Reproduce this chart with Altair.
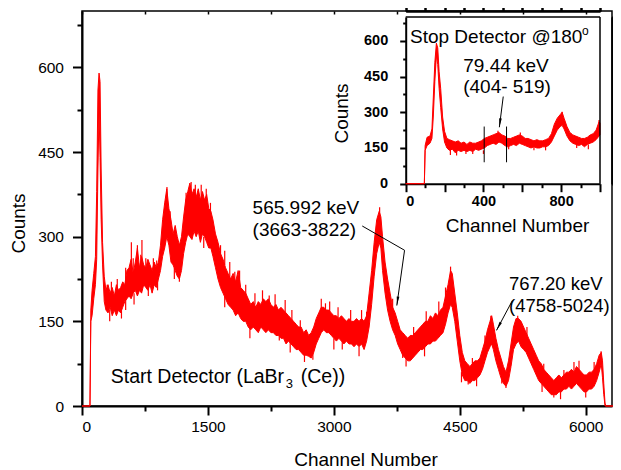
import math
import altair as alt
import pandas as pd

# ---------------- data ----------------
# Start detector spectrum: channel, lower and upper edge of the noisy trace (counts)
main_ch = [0, 95, 105, 120, 140, 160, 175, 190, 203, 215, 228, 245, 265, 285, 310, 335, 360, 385, 410, 435,
           460, 485, 510, 535, 560, 585, 610, 635, 660, 685, 710, 735, 760, 785, 810, 835, 860, 885, 910, 935,
           960, 985, 1010, 1035, 1060, 1085, 1110, 1135, 1160, 1185, 1210, 1235, 1260, 1285, 1310, 1335, 1360,
           1385, 1410, 1435, 1460, 1485, 1510, 1535, 1560, 1590, 1620, 1650, 1680, 1710, 1740, 1770, 1800, 1830,
           1860, 1890, 1920, 1950, 1980, 2010, 2040, 2070, 2100, 2130, 2160, 2190, 2220, 2250, 2280, 2310, 2340,
           2370, 2400, 2430, 2460, 2490, 2520, 2550, 2580, 2610, 2640, 2670, 2700, 2730, 2760, 2790, 2820, 2850,
           2880, 2910, 2940, 2970, 3000, 3030, 3060, 3090, 3120, 3150, 3180, 3210, 3240, 3270, 3300, 3330, 3360,
           3390, 3420, 3450, 3480, 3510, 3540, 3560, 3580, 3610, 3640, 3670, 3700, 3730, 3760, 3790, 3820, 3850,
           3880, 3910, 3940, 3970, 4000, 4030, 4060, 4090, 4120, 4150, 4180, 4210, 4240, 4270, 4300, 4330, 4360,
           4390, 4410, 4440, 4470, 4500, 4530, 4560, 4590, 4620, 4650, 4680, 4710, 4740, 4770, 4800, 4830, 4860,
           4880, 4900, 4930, 4960, 4990, 5020, 5050, 5080, 5110, 5140, 5170, 5200, 5230, 5260, 5290, 5320, 5350,
           5380, 5410, 5440, 5470, 5500, 5530, 5560, 5590, 5620, 5650, 5680, 5710, 5740, 5770, 5800, 5830, 5860,
           5890, 5920, 5950, 5980, 6010, 6040, 6070, 6100, 6130, 6160, 6185, 6200, 6215, 6230, 6240, 6400]
main_lo = [0, 0, 150, 160, 190, 215, 260, 420, 520, 440, 330, 250, 185, 170, 165, 175, 160, 170, 160, 170,
           165, 175, 185, 190, 195, 190, 200, 205, 195, 205, 200, 215, 210, 205, 215, 200, 215, 210, 225, 240,
           265, 280, 300, 285, 255, 250, 240, 230, 225, 240, 270, 290, 305, 300, 295, 310, 300,
           310, 290, 305, 300, 290, 280, 280, 265, 245, 225, 210, 200, 190, 180, 175, 170, 160,
           165, 155, 150, 150, 140, 135, 140, 135, 130, 140, 135, 130, 135, 130, 130, 125, 125,
           120, 120, 110, 115, 110, 105, 100, 100, 95, 90, 90, 88, 85, 95, 110, 120, 130,
           135, 130, 130, 125, 120, 115, 120, 115, 110, 115, 110, 110, 105, 110, 105, 110, 100,
           115, 140, 180, 230, 270, 290, 280, 240, 200, 170, 150, 135, 125, 110, 100, 90, 85,
           80, 80, 85, 90, 95, 100, 100, 105, 110, 110, 115, 115, 120, 125, 130, 145, 165,
           180, 175, 150, 115, 80, 55, 45, 45, 40, 45, 45, 50, 55, 65, 80, 95, 105,
           110, 100, 80, 65, 50, 40, 35, 45, 70, 100, 110, 115, 105, 100, 95, 85, 75,
           65, 55, 45, 40, 35, 30, 25, 20, 20, 20, 25, 25, 30, 30, 35, 30, 35,
           40, 35, 30, 25, 25, 30, 30, 35, 45, 60, 75, 50, 20, 0, 0, 0]
main_hi = [0, 0, 170, 205, 235, 265, 380, 560, 590, 575, 420, 290, 230, 205, 215, 200, 210, 195, 215, 205,
           210, 220, 215, 240, 245, 260, 235, 255, 280, 245, 265, 250, 245, 260, 250, 240, 255, 245, 255, 285,
           330, 360, 385, 350, 330, 305, 320, 300, 285, 300, 335, 365, 380, 395, 375, 385, 370,
           385, 365, 380, 365, 375, 350, 345, 330, 305, 290, 270, 260, 245, 235, 225, 235, 220,
           240, 210, 205, 200, 190, 180, 185, 175, 185, 180, 190, 185, 190, 180, 175, 180, 170,
           175, 170, 165, 160, 155, 150, 145, 140, 140, 130, 135, 125, 130, 140, 155, 165, 175,
           175, 170, 170, 165, 160, 160, 155, 160, 155, 150, 155, 150, 150, 155, 150, 155, 150,
           160, 200, 240, 290, 330, 345, 335, 300, 255, 225, 200, 175, 165, 150, 135, 130, 125,
           120, 125, 125, 130, 135, 140, 145, 150, 150, 160, 155, 165, 160, 170, 175, 195, 215,
           240, 235, 200, 165, 125, 95, 80, 75, 70, 75, 80, 80, 85, 100, 115, 135, 150,
           160, 145, 120, 100, 85, 70, 60, 80, 110, 140, 155, 155, 150, 140, 130, 120, 110,
           100, 90, 80, 75, 65, 60, 55, 50, 45, 50, 55, 50, 55, 60, 60, 65, 60,
           70, 65, 60, 55, 55, 60, 60, 65, 75, 90, 95, 80, 40, 5, 0, 0]
# single noise spikes standing out of the trace (channel, from, to) in counts
spike_ch = [470, 588, 660, 714, 790, 1012, 1160, 1300, 1420, 1820, 1877, 2230, 2350, 2600, 2750, 2900,
            3100, 3390, 3545, 3820, 4390, 4600, 4870, 5050, 5190, 5620, 5740, 6183,
            300, 350, 420, 520, 610, 700, 760, 850, 890, 1050, 1240, 1350, 1480, 1530, 1650, 1700, 1760,
            1950, 2060, 2150, 2300, 2420, 2500, 2850, 2950, 3050, 3200, 3330, 3700, 3950, 4100, 4250, 4330,
            4650, 4800, 5300, 5500, 5860, 5920, 6100,
            330, 520, 620, 900, 1100, 1450, 1700, 2000, 2480, 2650, 3000, 3300, 3860, 4080, 4520, 4700,
            5000, 5480, 5700, 6000]
spike_a = [175, 240, 250, 250, 210, 340, 240, 370, 360, 200, 200, 170, 130, 125, 100, 160,
           130, 140, 320, 100, 220, 50, 140, 45, 140, 30, 50, 80,
           200, 195, 200, 215, 230, 240, 235, 240, 235, 320, 350, 370, 360, 335, 260, 250, 225,
           195, 180, 180, 175, 165, 150, 170, 165, 155, 150, 150, 170, 120, 145, 160, 190,
           70, 110, 125, 60, 60, 62, 62,
           170, 190, 200, 225, 245, 300, 195, 140, 115, 95, 120, 105, 85, 105, 60, 50,
           55, 40, 25, 28]
spike_b = [155, 290, 285, 294, 195, 388, 220, 397, 392, 238, 240, 196, 116, 152, 82, 182,
           100, 167, 352, 85, 247, 38, 160, 32, 160, 15, 64, 97,
           215, 220, 225, 245, 262, 268, 262, 262, 258, 345, 378, 392, 385, 360, 285, 275, 255,
           215, 200, 205, 198, 188, 170, 190, 185, 175, 170, 170, 190, 140, 168, 185, 210,
           85, 125, 140, 75, 78, 80, 78,
           150, 170, 180, 205, 225, 280, 175, 120, 95, 78, 100, 88, 70, 88, 42, 35,
           40, 25, 12, 15]

# Stop detector spectrum (inset)
inset_ch = [0, 96, 100, 110, 125, 135, 142, 150, 158, 165, 172, 180, 190, 200, 212, 225, 240, 255, 270, 285,
            300, 315, 330, 345, 360, 375, 390, 405, 420, 435, 450, 465, 480, 495, 510, 525, 540, 555, 570,
            585, 600, 615, 630, 645, 660, 675, 690, 705, 720, 735, 750, 765, 780, 795, 805, 815, 830, 845,
            860, 875, 890, 905, 920, 935, 950, 965, 980, 995, 1000]
inset_lo = [0, 0, 140, 160, 170, 190, 280, 430, 540, 500, 400, 320, 230, 175, 150, 140, 145, 130, 140, 135,
            140, 135, 140, 135, 145, 140, 145, 150, 160, 165, 170, 165, 175, 170, 160, 155, 160, 165, 160,
            170, 165, 160, 155, 150, 155, 150, 150, 155, 155, 160, 175, 200, 225, 240, 245, 230, 200, 180,
            170, 165, 160, 165, 155, 165, 170, 175, 185, 200, 205]
inset_hi = [0, 0, 160, 195, 200, 230, 360, 510, 590, 570, 470, 400, 280, 220, 190, 185, 180, 175, 180, 170,
            175, 165, 175, 170, 170, 175, 180, 190, 195, 200, 205, 210, 215, 205, 200, 190, 190, 195, 200,
            205, 200, 190, 190, 185, 180, 185, 180, 180, 185, 190, 210, 250, 275, 290, 300, 275, 240, 215,
            205, 200, 195, 190, 190, 195, 205, 210, 225, 260, 255]
ispike_ch = [230, 262, 310, 400, 475, 590, 660, 805, 880, 995, 345, 530, 720, 850, 940]
ispike_a = [150, 140, 150, 140, 200, 190, 160, 280, 170, 240, 150, 165, 160, 190, 165]
ispike_b = [120, 118, 125, 125, 222, 215, 140, 302, 150, 268, 125, 145, 140, 212, 145]

# gate channels in the inset and the annotation arrows (channel, counts)
gate_ch = [404, 519]
gate_lo, gate_hi = 90, 240
arrow_main_1 = [(3338, 319), (3842, 276), (3750, 178)]
arrow_main_2 = [(5127, 187), (4937, 134)]
arrow_inset = [(502, 366), (482, 237)]

# axis ticks
main_x_major = [0, 1500, 3000, 4500, 6000]
main_x_minor = [750, 2250, 3750, 5250]
y_major = [0, 150, 300, 450, 600]
y_minor = [75, 225, 375, 525, 675]
inset_x_major = [0, 200, 400, 600, 800, 1000]
inset_x_minor = [100, 300, 500, 700, 900]

FONT = "Liberation Sans"
W, H = 530, 395
X_MAX, Y_MAX = 6313, 700
IX = [323.7, 518.0]
IY = [172.7, 6.0]


def head(points, sx, sy, back=6.0):
    (x0, y0), (x1, y1) = points[-2], points[-1]
    dx = (x1 - x0) * sx
    dy = -(y1 - y0) * sy
    L = math.hypot(dx, dy)
    ux, uy = dx / L, dy / L
    ang = math.degrees(math.atan2(ux, -uy)) % 360
    return {"ch": x1 - ux * back / sx, "v": y1 + uy * back / sy, "ang": ang}


def arrows_df(arrs):
    rows = []
    for i, a in enumerate(arrs):
        for j, (c, v) in enumerate(a):
            rows.append({"id": i, "o": j, "ch": c, "v": v})
    return pd.DataFrame(rows)


NOX = dict(axis=None)

# ---------------- main chart ----------------
xs = alt.Scale(domain=[0, X_MAX], nice=False, zero=False)
ys = alt.Scale(domain=[0, Y_MAX], nice=False)

main_df = pd.DataFrame({"ch": main_ch, "lo": main_lo, "hi": main_hi})

main_area = alt.Chart(main_df).mark_area(
    color="#ff0000", stroke="#ff0000", strokeWidth=1, orient="vertical"
).encode(
    x=alt.X("ch:Q", scale=xs, axis=alt.Axis(
        orient="bottom", values=main_x_major, format="d", tickSize=9,
        labelPadding=4, labelFontSize=15.5,
        title="Channel Number", titleFontSize=19, titleFontWeight="normal",
        titleX=283.5, titleY=59, titleBaseline="alphabetic", titleAnchor="middle")),
    y=alt.Y("lo:Q", scale=ys, axis=alt.Axis(
        orient="left", values=y_major, format="d", tickSize=9.5,
        labelPadding=9, labelFontSize=15.5,
        title="Counts", titleFontSize=19, titleFontWeight="normal",
        titleAngle=-90, titleX=-58, titleY=212, titleBaseline="alphabetic", titleAlign="center")),
    y2="hi:Q",
)

main_minor = alt.Chart(pd.DataFrame({"ch": main_x_minor + [main_x_minor[-1]],
                                     "v": y_minor})).mark_point(opacity=0).encode(
    x=alt.X("ch:Q", axis=alt.Axis(orient="bottom", values=main_x_minor, tickSize=5, labels=False,
                                  domain=False, title=None)),
    y=alt.Y("v:Q", axis=alt.Axis(orient="left", values=y_minor, tickSize=5, labels=False,
                                 domain=False, title=None)),
)

# inward ticks on the top frame (a bottom-oriented axis moved to the top edge)
top_ticks = alt.Chart(pd.DataFrame({"ch": main_x_major + main_x_minor})).mark_point(opacity=0).encode(
    x=alt.X("ch:Q", axis=alt.Axis(orient="bottom", offset=-H, values=main_x_major + main_x_minor,
                                  tickSize=3, tickWidth=1.5, labels=False, domain=False, title=None)),
)

spikes = alt.Chart(pd.DataFrame({"ch": spike_ch, "a": spike_a, "b": spike_b})).mark_rule(
    color="#ff0000", strokeWidth=1.2).encode(
    x=alt.X("ch:Q", **NOX), y=alt.Y("a:Q", **NOX), y2="b:Q")

sxm, sym = W / X_MAX, H / Y_MAX
m_arrows = arrows_df([arrow_main_1, arrow_main_2])
main_arrow_lines = alt.Chart(m_arrows).mark_line(color="black", strokeWidth=1).encode(
    x=alt.X("ch:Q", **NOX), y=alt.Y("v:Q", **NOX), detail="id:N", order="o:Q")
m_heads = pd.DataFrame([head(arrow_main_1, sxm, sym), head(arrow_main_2, sxm, sym)])
main_heads = alt.Chart(m_heads).mark_point(shape="wedge", filled=True, color="black", size=110, opacity=1).encode(
    x=alt.X("ch:Q", **NOX), y=alt.Y("v:Q", **NOX), angle=alt.Angle("ang:Q", scale=None))

m_text = pd.DataFrame({
    "ch": [2032, 2032, 5086, 5086],
    "v": [340.6, 301.8, 204.7, 166],
    "t": ["565.992 keV", "(3663-3822)", "767.20 keV", "(4758-5024)"],
    "s": [19, 19, 18.5, 18.5],
})
main_texts = alt.Chart(m_text).mark_text(
    font=FONT, align="left", baseline="alphabetic", color="black"
).encode(x=alt.X("ch:Q", **NOX), y=alt.Y("v:Q", **NOX), text="t:N",
         size=alt.Size("s:Q", scale=None, legend=None))

start_df = pd.DataFrame({"ch": [342], "v": [40]})


def label_part(df, text, size, dx=0, dy=0):
    return alt.Chart(df).mark_text(font=FONT, fontSize=size, align="left", baseline="alphabetic",
                                   color="black", text=text, dx=dx, dy=dy).encode(
        x=alt.X("ch:Q", **NOX), y=alt.Y("v:Q", **NOX))


start1 = label_part(start_df, "Start Detector (LaBr", 19.5)
start2 = label_part(start_df, "3", 13, dx=175, dy=5)
start3 = label_part(start_df, "(Ce))", 19.5, dx=190)

main = alt.layer(main_area, main_minor, top_ticks, spikes, main_arrow_lines, main_heads, main_texts,
                 start1, start2, start3).resolve_axis(x="independent", y="independent")

# ---------------- inset ----------------
ixs = alt.Scale(domain=[0, 1000], nice=False, zero=False, range=IX)
iys = alt.Scale(domain=[0, Y_MAX], nice=False, range=IY)
inset_df = pd.DataFrame({"ch": inset_ch, "lo": inset_lo, "hi": inset_hi})

inset_area = alt.Chart(inset_df).mark_area(
    color="#ff0000", stroke="#ff0000", strokeWidth=1, orient="vertical"
).encode(
    x=alt.X("ch:Q", scale=ixs, axis=alt.Axis(
        orient="bottom", offset=-(H - IY[0]),
        values=inset_x_major, format="d", tickSize=8,
        labelPadding=3, labelFontSize=14.5, labelFontWeight="bold",
        title="Channel Number", titleFontSize=19, titleFontWeight="normal",
        titleX=435, titleY=48, titleBaseline="alphabetic", titleAnchor="middle")),
    y=alt.Y("lo:Q", scale=iys, axis=alt.Axis(
        orient="left", offset=-IX[0],
        values=y_major, format="d", tickSize=6,
        labelPadding=12, labelFontSize=14.5, labelFontWeight="bold",
        title="Counts", titleFontSize=19, titleFontWeight="normal",
        titleAngle=-90, titleX=-58, titleY=102, titleBaseline="alphabetic", titleAlign="center")),
    y2="hi:Q",
)

inset_minor = alt.Chart(pd.DataFrame({"ch": inset_x_minor, "v": y_minor})).mark_point(opacity=0).encode(
    x=alt.X("ch:Q", axis=alt.Axis(orient="bottom", offset=-(H - IY[0]), values=inset_x_minor,
                                  tickSize=4, labels=False, domain=False, title=None)),
    y=alt.Y("v:Q", axis=alt.Axis(orient="left", offset=-IX[0], values=y_minor, tickSize=3,
                                 labels=False, domain=False, title=None)),
)

ispikes = alt.Chart(pd.DataFrame({"ch": ispike_ch, "a": ispike_a, "b": ispike_b})).mark_rule(
    color="#ff0000", strokeWidth=1.2).encode(
    x=alt.X("ch:Q", **NOX), y=alt.Y("a:Q", **NOX), y2="b:Q")

frame_top = alt.Chart(pd.DataFrame({"a": [0]})).mark_rule(color="black", strokeWidth=1.5).encode(
    x=alt.datum(0), x2=alt.datum(1000), y=alt.datum(Y_MAX))
frame_right = alt.Chart(pd.DataFrame({"a": [0]})).mark_rule(color="black", strokeWidth=1.5).encode(
    x=alt.datum(1000), y=alt.datum(0), y2=alt.datum(Y_MAX))

gate_df = pd.DataFrame({"ch": gate_ch, "lo": [gate_lo] * 2, "hi": [gate_hi] * 2})
gates = alt.Chart(gate_df).mark_rule(color="black", strokeWidth=1).encode(
    x=alt.X("ch:Q", **NOX), y=alt.Y("lo:Q", **NOX), y2="hi:Q")

sxi, syi = (IX[1] - IX[0]) / 1000, (IY[0] - IY[1]) / Y_MAX
i_arrow = alt.Chart(arrows_df([arrow_inset])).mark_line(color="black", strokeWidth=1).encode(
    x=alt.X("ch:Q", **NOX), y=alt.Y("v:Q", **NOX), detail="id:N", order="o:Q")
i_head = alt.Chart(pd.DataFrame([head(arrow_inset, sxi, syi)])).mark_point(
    shape="wedge", filled=True, color="black", size=110, opacity=1).encode(
    x=alt.X("ch:Q", **NOX), y=alt.Y("v:Q", **NOX), angle=alt.Angle("ang:Q", scale=None))

i_text = pd.DataFrame({"ch": [296, 296], "v": [471, 380], "t": ["79.44 keV", "(404- 519)"]})
inset_texts = alt.Chart(i_text).mark_text(
    font=FONT, fontSize=19, align="left", baseline="alphabetic", color="black"
).encode(x=alt.X("ch:Q", **NOX), y=alt.Y("v:Q", **NOX), text="t:N")

stop_df = pd.DataFrame({"ch": [22], "v": [590]})
stop1 = label_part(stop_df, "Stop Detector @180", 19)
stop2 = label_part(stop_df, "o", 12, dx=172, dy=-8)

inset = alt.layer(inset_area, inset_minor, ispikes, frame_top, frame_right, gates, i_arrow, i_head,
                  inset_texts, stop1, stop2).resolve_axis(x="independent", y="independent")

chart = alt.layer(main, inset).resolve_scale(x="independent", y="independent").properties(
    width=W, height=H,
    autosize=alt.AutoSizeParams(type="none"),
    padding={"left": 74, "top": 3, "right": 1, "bottom": 64},
).configure_view(stroke="black", strokeWidth=1.5).configure_axis(
    labelFont=FONT, titleFont=FONT, labelColor="black", titleColor="black",
    domainColor="black", domainWidth=2, tickColor="black", tickWidth=2, grid=False,
)

chart.save("out.html", embed_options={"renderer": "svg", "actions": False})
